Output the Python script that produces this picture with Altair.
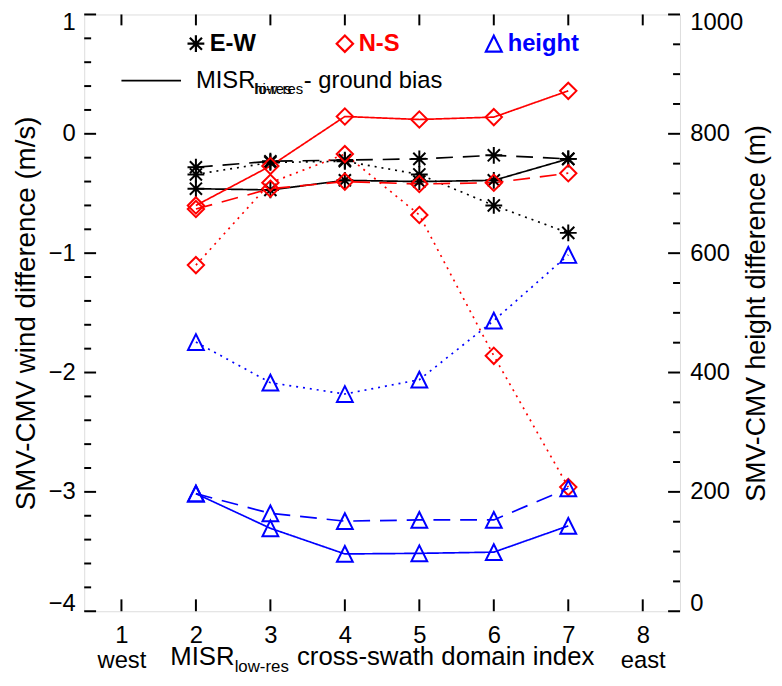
import altair as alt
import pandas as pd

# ---------------- data ----------------
domain_index = [2, 3, 4, 5, 6, 7]

ew_solid = [-0.46, -0.47, -0.39, -0.40, -0.39, -0.21]
ew_dashed = [-0.28, -0.23, -0.22, -0.21, -0.18, -0.21]
ew_dotted = [-0.34, -0.24, -0.23, -0.34, -0.60, -0.83]

ns_solid = [-0.60, -0.27, 0.145, 0.12, 0.14, 0.36]
ns_dashed = [-0.63, -0.46, -0.40, -0.42, -0.41, -0.33]
ns_dotted = [-1.10, -0.41, -0.17, -0.68, -1.86, -2.96]

h_solid = [197, 139, 96, 97, 99, 143]
h_dashed = [197, 164, 151, 153, 153, 206]
h_dotted = [451, 383, 364, 388, 487, 597]

x_ticks = [1, 2, 3, 4, 5, 6, 7, 8]
x_tick_sub = {1: "west", 8: "east"}
wind_ticks = [-4, -3, -2, -1, 0, 1]
wind_minor = [round(-4 + 0.2 * i, 2) for i in range(26) if i % 5 != 0]
height_ticks = [0, 200, 400, 600, 800, 1000]
height_minor = [v for v in range(0, 1001, 50) if v % 200 != 0]

legend_series = ["E-W", "N-S", "height"]
legend_x = [2, 4, 6]
legend_y = [0.755, 0.755, 0.755]
bias_x = [1.0, 1.8]
bias_y = 0.445

series_names = ["E-W", "N-S", "height"]
series_colors = ["#000000", "#ff0000", "#0000ff"]
styles = ["solid", "dashed", "dotted"]

# ---------------- tables ----------------
rows = []
for name, sets in [("E-W", [ew_solid, ew_dashed, ew_dotted]),
                   ("N-S", [ns_solid, ns_dashed, ns_dotted])]:
    for st, vals in zip(styles, sets):
        for xi, v in zip(domain_index, vals):
            rows.append({"x": xi, "v": v, "series": name, "style": st})
wind_df = pd.DataFrame(rows)

rows = []
for st, vals in zip(styles, [h_solid, h_dashed, h_dotted]):
    for xi, v in zip(domain_index, vals):
        rows.append({"x": xi, "h": v, "series": "height", "style": st})
height_df = pd.DataFrame(rows)

legend_df = pd.DataFrame({"series": legend_series, "x": legend_x, "v": legend_y})
bias_df = pd.DataFrame({"x": [bias_x[0]], "x2": [bias_x[1]], "v": [bias_y]})
bias_text_df = pd.DataFrame({"x": [legend_x[0]], "v": [bias_y]})

# ---------------- styles ----------------
FONT = "Liberation Sans"
W, H = 602, 603
ASTERISK = "M-1,0L1,0M0,-1L0,1M-0.72,-0.72L0.72,0.72M-0.72,0.72L0.72,-0.72"
DIAMOND = "M0,-1L1,0L0,1L-1,0Z"
TRIANGLE = "M0,-1L1,1L-1,1Z"

color_scale = alt.Scale(domain=series_names, range=series_colors)
shape_scale = alt.Scale(domain=series_names, range=[ASTERISK, DIAMOND, TRIANGLE])
size_scale = alt.Scale(domain=series_names, range=[289, 256, 220])
dash_scale = alt.Scale(domain=styles, range=[[1, 0], [17, 10], [2, 5]])

x_scale = alt.Scale(domain=[0.5, 8.5], nice=False, zero=False)
yL_scale = alt.Scale(domain=[-4, 1], nice=False, zero=False)
yR_scale = alt.Scale(domain=[0, 1000], nice=False, zero=False)

label_expr = " : ".join(
    [f"datum.value == {k} ? ['{k}', '{s}']" for k, s in x_tick_sub.items()]
) + " : datum.label"

TICK_FS = 24
TITLE_FS = 28

x_axis = alt.Axis(values=x_ticks, labelExpr=label_expr, ticks=False, tickSize=0,
                  domain=False, grid=False, title=None, labelFontSize=TICK_FS,
                  labelPadding=13, labelLineHeight=25, labelColor="black",
                  labelFont=FONT)
yL_axis = alt.Axis(values=wind_ticks, ticks=False, tickSize=0, domain=False, grid=False,
                   labelFontSize=TICK_FS, labelPadding=9, labelFlush=True,
                   labelFlushOffset=4, labelColor="black",
                   title="SMV-CMV wind difference (m/s)", titleFontSize=TITLE_FS,
                   titleFontWeight="normal", titlePadding=8, titleColor="black",
                   labelFont=FONT, titleFont=FONT)
yR_axis = alt.Axis(values=height_ticks, orient="right", format="d", ticks=False,
                   tickSize=0, domain=False, grid=False, labelFontSize=TICK_FS,
                   labelPadding=10, labelFlush=True, labelFlushOffset=4,
                   labelColor="black",
                   title="SMV-CMV height difference (m)", titleFontSize=27,
                   titleFontWeight="normal", titlePadding=1, titleColor="black",
                   titleAngle=270, titleBaseline="top", labelFont=FONT, titleFont=FONT)

X = alt.X("x:Q", scale=x_scale, axis=x_axis)
YL = alt.Y("v:Q", scale=yL_scale, axis=yL_axis)
YR = alt.Y("h:Q", scale=yR_scale, axis=yR_axis)

color = alt.Color("series:N", scale=color_scale, legend=None)
shape = alt.Shape("series:N", scale=shape_scale, legend=None)
size = alt.Size("series:N", scale=size_scale, legend=None)
dash = alt.StrokeDash("style:N", scale=dash_scale, legend=None)

# ---------------- wind layers ----------------
wind_base = alt.Chart(wind_df)
wind_lines = wind_base.mark_line(strokeWidth=1.7).encode(
    x=X, y=YL, color=color, strokeDash=dash, detail="style:N")
wind_points = wind_base.mark_point(filled=False, strokeWidth=2, opacity=1).encode(
    x=X, y=YL, stroke=color, shape=shape, size=size)

leg_points = alt.Chart(legend_df).mark_point(filled=False, strokeWidth=2.2, opacity=1).encode(
    x=X, y=YL, stroke=color, shape=shape, size=size)
leg_text = alt.Chart(legend_df).mark_text(
    align="left", baseline="middle", dx=14, fontSize=24, fontWeight="bold", font=FONT
).encode(x=X, y=YL, text="series:N", color=color)

bias_rule = alt.Chart(bias_df).mark_rule(color="black", strokeWidth=1.8).encode(
    x=X, x2="x2:Q", y=YL)
bias_main = alt.Chart(bias_text_df).mark_text(
    align="left", baseline="middle", fontSize=24, font=FONT, color="black"
).encode(x=X, y=YL, text=alt.value("MISR"))
bias_sub1 = alt.Chart(bias_text_df).mark_text(
    align="left", baseline="middle", fontSize=15, font=FONT, color="black", dx=59, dy=8
).encode(x=X, y=YL, text=alt.value("hi-res"))
bias_sub2 = alt.Chart(bias_text_df).mark_text(
    align="left", baseline="middle", fontSize=15, font=FONT, color="black", dx=60, dy=8
).encode(x=X, y=YL, text=alt.value("low-res"))
bias_rest = alt.Chart(bias_text_df).mark_text(
    align="left", baseline="middle", fontSize=24, font=FONT, color="black", dx=109
).encode(x=X, y=YL, text=alt.value("- ground bias"))

# inward ticks
left_major = alt.Chart(pd.DataFrame({"v": wind_ticks})).mark_rule(
    color="black", strokeWidth=2).encode(y=YL, x=alt.value(0), x2=alt.value(12))
left_minor = alt.Chart(pd.DataFrame({"v": wind_minor})).mark_rule(
    color="black", strokeWidth=2).encode(y=YL, x=alt.value(0), x2=alt.value(7))
top_ticks = alt.Chart(pd.DataFrame({"x": x_ticks})).mark_rule(
    color="black", strokeWidth=2).encode(x=X, y=alt.value(0), y2=alt.value(11))
bottom_ticks = alt.Chart(pd.DataFrame({"x": x_ticks})).mark_rule(
    color="black", strokeWidth=2).encode(x=X, y=alt.value(H), y2=alt.value(H - 12))

# x-axis title with subscript
xt_main = alt.Chart(pd.DataFrame({"a": [0]})).mark_text(
    align="left", baseline="alphabetic", fontSize=26, font=FONT, color="black"
).encode(x=alt.value(87), y=alt.value(657), text=alt.value("MISR"))
xt_sub = alt.Chart(pd.DataFrame({"a": [0]})).mark_text(
    align="left", baseline="alphabetic", fontSize=17, font=FONT, color="black"
).encode(x=alt.value(152), y=alt.value(664), text=alt.value("low-res"))
xt_rest = alt.Chart(pd.DataFrame({"a": [0]})).mark_text(
    align="left", baseline="alphabetic", fontSize=26, font=FONT, color="black"
).encode(x=alt.value(215), y=alt.value(657), text=alt.value("cross-swath domain index"))

wind_layer = alt.layer(
    wind_lines, wind_points, leg_points, leg_text, bias_rule, bias_main, bias_sub1,
    bias_sub2, bias_rest, left_major, left_minor, top_ticks, bottom_ticks,
    xt_main, xt_sub, xt_rest)

# ---------------- height layers ----------------
h_base = alt.Chart(height_df)
h_lines = h_base.mark_line(strokeWidth=1.7).encode(
    x=X, y=YR, color=color, strokeDash=dash, detail="style:N")
h_points = h_base.mark_point(filled=False, strokeWidth=2, opacity=1).encode(
    x=X, y=YR, stroke=color, shape=shape, size=size)
right_major = alt.Chart(pd.DataFrame({"h": height_ticks})).mark_rule(
    color="black", strokeWidth=2).encode(y=YR, x=alt.value(W), x2=alt.value(W - 12))
right_minor = alt.Chart(pd.DataFrame({"h": height_minor})).mark_rule(
    color="black", strokeWidth=2).encode(y=YR, x=alt.value(W), x2=alt.value(W - 7))

height_layer = alt.layer(h_lines, h_points, right_major, right_minor)

chart = alt.layer(wind_layer, height_layer).resolve_scale(
    y="independent"
).properties(
    width=W, height=H,
    autosize=alt.AutoSizeParams(type="none"),
    padding={"left": 77, "top": 3, "right": 95, "bottom": 70},
    background="white",
).configure_view(
    stroke="black", strokeWidth=2
).configure(font=FONT)

chart.save("out.html", embed_options={"renderer": "svg", "actions": False})
